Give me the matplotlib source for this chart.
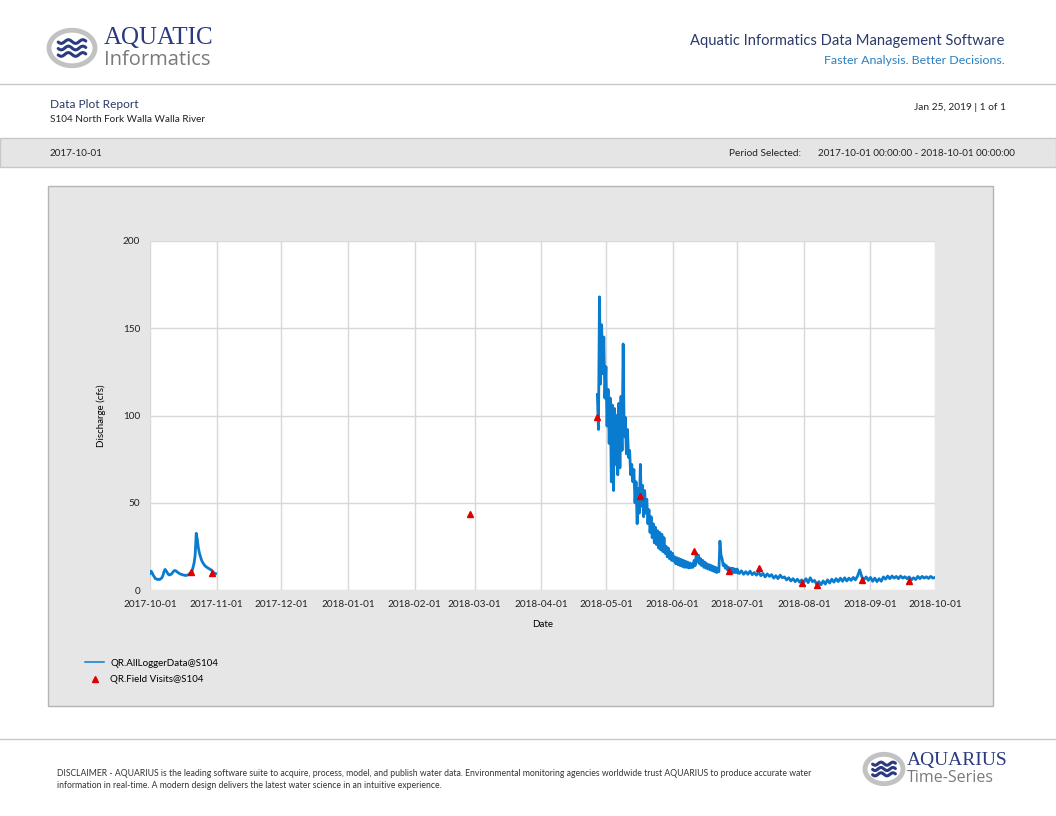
import numpy as np
import pandas as pd
import matplotlib
matplotlib.use("Agg")
import matplotlib.pyplot as plt
import matplotlib.dates as mdates
from matplotlib.patches import Rectangle, Circle
from matplotlib.lines import Line2D

plt.rcParams['font.family'] = ['Lato', 'DejaVu Sans']

# --- data -------------------------------------------------------------
# logger record, October 2017 (12 hourly)
oct_start = "2017-10-01"
oct_q = [9.5, 10.8, 9.8, 8.5, 7.5, 6.5, 6.3, 6.0, 6.2, 6.0,
         6.5, 7.0, 8.2, 10.5, 11.8, 11.0, 10.0, 9.0, 8.6, 8.8,
         9.2, 10.0, 10.8, 11.2, 11.0, 10.5, 10.0, 9.6, 9.2, 9.0,
         8.8, 8.6, 8.5, 8.3, 8.4, 8.6, 8.9, 9.5, 10.0, 10.5,
         13.0, 15.5, 20.0, 32.5, 29.0, 24.0, 21.0, 19.0, 17.0, 15.8,
         14.8, 14.0, 13.4, 13.0, 12.5, 12.2, 11.8, 11.5, 10.8, 10.0,
         9.6, 9.4]

# logger record, spring melt 2018 (12 hourly)
spring_start = "2018-04-27"
spring_q = [112, 92, 168, 118, 152, 124, 145, 110, 128, 94,
            115, 84, 110, 62, 106, 57, 104, 72, 100, 66,
            107, 70, 111, 80, 141, 88, 99, 78, 92, 76,
            80, 66, 72, 62, 69, 50, 62, 38, 58, 44,
            72, 48, 60, 42, 57, 44, 52, 38, 46, 33,
            42, 30, 38, 27, 36, 26, 34, 24, 33, 23,
            32, 22, 30, 21,
            25, 19, 24, 18, 22, 17, 21, 16.5, 19, 15,
            18.5, 14.5, 18, 14, 17.5, 13.5, 17, 13, 16.5, 13,
            16, 12.6, 15.5, 12.8, 15, 13, 17, 14, 21, 16,
            20, 15, 18, 14, 17, 13, 16, 12.5, 15, 12,
            14.5, 11.5, 14, 11, 13.5, 10.5, 13, 10, 12.5, 10.5,
            28, 20, 18, 14, 15, 12.5, 14, 11.5, 13, 11,
            12.5, 10.5, 12.5, 10, 12, 10, 12, 9.8]

# logger record, summer 2018 (daily)
summer_start = "2018-07-01"
summer_q = [11.5, 9.5, 11, 9, 10.5, 9, 10.8, 8.8, 10, 8.5,
            10.2, 8.2, 9.5, 7.5, 9.2, 7.8, 8.8, 6.8, 8.2, 6.5,
            8.5, 7, 7.5, 5.8, 7, 5.2, 6.5, 4.8, 6.2, 4.5, 5.8,
            4.5, 6.5, 4.2, 7, 4.8, 5.5, 3.2, 4.8, 3.0, 5.2,
            3.4, 5.8, 4, 6.2, 4.5, 6.5, 4.8, 6.8, 5, 7,
            5.2, 6.8, 5.5, 7.2, 5.8, 8, 11.5, 7.5, 6, 7.5, 5.5,
            7.2, 5, 6.8, 4.8, 6.5, 5, 7.5, 6.2, 8, 6.5,
            8, 6.8, 7.8, 6.5, 8, 6.8, 7.6, 6.5, 7.5, 5.8,
            7, 6, 7.8, 6.5, 7.8, 6.8, 7.6, 6.6, 7.8, 6.8,
            7.2]

visit_dates = ["2017-10-20", "2017-10-30", "2018-02-27", "2018-04-27",
               "2018-05-17", "2018-06-11", "2018-06-27", "2018-07-11",
               "2018-07-31", "2018-08-07", "2018-08-28", "2018-09-19"]
visit_q = [10.1, 9.5, 43.5, 99, 54, 22.5, 11, 12.6, 4.2, 2.9, 5.7, 5.3]

month_ticks = pd.date_range("2017-10-01", "2018-10-01", freq="MS")

# --- page -------------------------------------------------------------
W, H = 1056, 816
fig = plt.figure(figsize=(W / 100, H / 100), dpi=100)
fig.patch.set_facecolor("white")

def fx(x):
    return x / W

def fy(y):
    return 1 - y / H

navy = "#2b3a80"
grey_line = "#c8c8c8"

def logo(cx, cy, r):
    fig.add_artist(Circle((fx(cx), fy(cy)), r / W, transform=fig.transFigure,
                          facecolor="white", edgecolor="#c2c2c2", lw=3.5))
    t = np.linspace(-0.6, 0.6, 60)
    for k in (-1, 0, 1):
        xs = cx + t * r
        ys = cy + k * r * 0.28 + np.sin(t * 10) * r * 0.08
        fig.add_artist(Line2D(fx(xs), fy(ys), transform=fig.transFigure,
                              color=navy, lw=2.2, solid_capstyle="round"))

# header
logo(72, 48, 23)
fig.text(fx(104), fy(38), "AQUATIC", family="Liberation Serif", fontsize=18,
         color=navy, va="center")
fig.text(fx(104), fy(60), "Informatics", family="Open Sans", fontsize=14.5,
         color="#7a7a7a", va="center")
fig.text(fx(1005), fy(41), "Aquatic Informatics Data Management Software",
         fontsize=10.6, color="#2a3a6a", ha="right", va="center")
fig.text(fx(1005), fy(60), "Faster Analysis. Better Decisions.",
         fontsize=8.9, color="#2a80c0", ha="right", va="center")
fig.add_artist(Line2D([0, 1], [fy(84), fy(84)], transform=fig.transFigure,
                      color=grey_line, lw=1))

fig.text(fx(50), fy(105), "Data Plot Report", fontsize=8.6, color="#2a3a6a", va="center")
fig.text(fx(50), fy(120), "S104 North Fork Walla Walla River", fontsize=7.2, color="#222222",
         va="center")
fig.text(fx(1006), fy(107), "Jan 25, 2019 | 1 of 1", fontsize=7.3, color="#222222",
         ha="right", va="center")

fig.add_artist(Rectangle((0, fy(167)), 1, (167 - 138) / H, transform=fig.transFigure,
                         facecolor="#e5e5e5", edgecolor=grey_line, lw=1))
fig.text(fx(50), fy(153), "2017-10-01", fontsize=7.1, color="#222222", va="center")
fig.text(fx(729), fy(153), "Period Selected:", fontsize=7.3, color="#222222", va="center")
fig.text(fx(818), fy(153), "2017-10-01 00:00:00 - 2018-10-01 00:00:00", fontsize=7.1,
         color="#222222", va="center")

# chart panel
fig.add_artist(Rectangle((fx(48), fy(706)), (993 - 48) / W, (706 - 186) / H,
                         transform=fig.transFigure, facecolor="#e6e6e6",
                         edgecolor="#b4b4b4", lw=1, zorder=-5))

# footer
fig.add_artist(Line2D([0, 1], [fy(739), fy(739)], transform=fig.transFigure,
                      color=grey_line, lw=1))
fig.text(fx(57), fy(773),
         "DISCLAIMER - AQUARIUS is the leading software suite to acquire, process, model, and "
         "publish water data. Environmental monitoring agencies worldwide trust AQUARIUS to "
         "produce accurate water", fontsize=6.25, color="#333333", va="center")
fig.text(fx(57), fy(786),
         "information in real-time. A modern design delivers the latest water science in an "
         "intuitive experience.", fontsize=6.25, color="#333333", va="center")
logo(884, 769, 19)
fig.text(fx(907), fy(761), "AQUARIUS", family="Liberation Serif", fontsize=14,
         color=navy, va="center")
fig.text(fx(907), fy(778), "Time-Series", family="Open Sans", fontsize=11.5,
         color="#7a7a7a", va="center")

# --- plot -------------------------------------------------------------
ax = fig.add_axes([fx(150), fy(590), (935 - 150) / W, (590 - 241) / H])
ax.set_zorder(2)
ax.set_facecolor("white")

blue = "#0a7ccf"
segments = [(oct_start, "12h", oct_q), (spring_start, "12h", spring_q),
            (summer_start, "D", summer_q)]
for start, freq, q in segments:
    t = pd.date_range(start, periods=len(q), freq=freq)
    ax.plot(t, q, color=blue, lw=2.0)

pts, = ax.plot(pd.to_datetime(visit_dates), visit_q, linestyle="none", marker="^",
               markersize=5, color="#e00000", label="QR.Field Visits@S104", zorder=3)

ax.set_xlim(pd.Timestamp("2017-10-01"), pd.Timestamp("2018-10-01"))
ax.set_ylim(0, 200)
ax.set_yticks([0, 50, 100, 150, 200])
ax.set_xticks(month_ticks)
ax.xaxis.set_major_formatter(mdates.DateFormatter("%Y-%m-%d"))
ax.grid(True, color="#d8d8d8", lw=1)
ax.set_axisbelow(True)
for s in ax.spines.values():
    s.set_visible(False)
ax.tick_params(length=0, labelsize=7.2, colors="#222222", pad=7)
ax.set_ylabel("Discharge (cfs)", fontsize=7, labelpad=12)
ax.set_xlabel("Date", fontsize=7, labelpad=8)

# thin legend sample, like the report
line_key = Line2D([], [], color=blue, lw=1.1, label="QR.AllLoggerData@S104")
fig.legend(handles=[line_key, pts], loc="upper left", bbox_to_anchor=(fx(81), fy(655)),
           frameon=False, fontsize=7, handlelength=2.0, handletextpad=0.6,
           labelspacing=0.75, borderaxespad=0)

fig.savefig("out.png", dpi=100)
